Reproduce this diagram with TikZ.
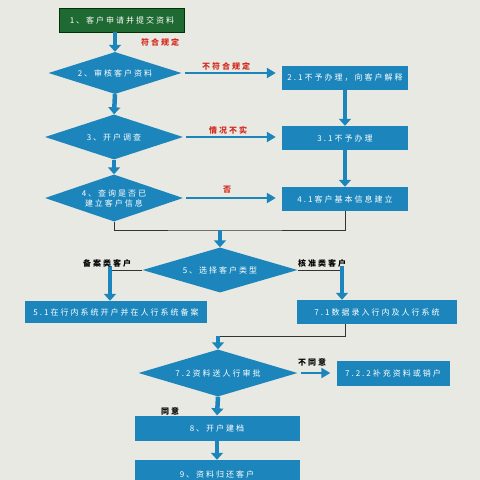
\documentclass[tikz,border=0pt]{standalone}
\usepackage{fontspec}
\setmainfont{Noto Sans CJK SC}[LetterSpace=25]
\usepackage{xcolor}
\definecolor{FlowBlue}{HTML}{1C86BC}
\definecolor{FlowGreen}{HTML}{1F6A32}
\definecolor{PaperBg}{HTML}{E8E9E3}
\definecolor{RuleRed}{HTML}{D42A1E}
\usetikzlibrary{shapes.geometric}
\usetikzlibrary{arrows.meta}

\tikzset{
  stepbox/.style={shape=rectangle, fill=FlowBlue, text=white, inner sep=0pt},
  decision/.style={shape=diamond, aspect=3.2, fill=FlowBlue, text=white, inner sep=0pt, align=center},
  flow/.style={draw=FlowBlue, line width=4.5pt, -{Triangle[width=12pt,length=7pt]}},
  sideflow/.style={draw=FlowBlue, line width=2.6pt, -{Triangle[width=10pt,length=9pt]},
    shorten <=3pt, shorten >=6pt},
  joint/.style={draw=black!80, line width=0.7pt},
  rulelbl/.style={text=RuleRed, font=\fontsize{8}{9}\selectfont\bfseries},
  caselbl/.style={text=black, font=\fontsize{8}{9}\selectfont\bfseries}
}

\begin{document}
\begin{tikzpicture}[x=1pt, y=-1pt, font=\fontsize{8}{10}\selectfont]
    \useasboundingbox (0,0) rectangle (480,480);
    \fill[PaperBg] (0,0) rectangle (480,480);

    \node[name=apply,
      shape=rectangle,
      fill=FlowGreen,
      draw=green!20!black,
      line width=0.8pt,
      text=white,
      minimum width=125pt,
      minimum height=24pt] at (122,20) {1、客户申请并提交资料};

    \node[name=review, decision, minimum width=133pt, minimum height=42pt] at (115,73) {2、审核客户资料};
    \node[name=decline, stepbox, minimum width=126pt, minimum height=24pt] at (345,78) {2.1不予办理，向客户解释};

    \node[name=survey, decision, minimum width=138pt, minimum height=45pt] at (114,137) {3、开户调查};
    \node[name=refuse, stepbox, minimum width=126pt, minimum height=24pt] at (345,138) {3.1不予办理};

    \node[name=check, decision, minimum width=138pt, minimum height=47pt] at (114,198) {4、查询是否已\\建立客户信息};
    \node[name=setup, stepbox, minimum width=126pt, minimum height=24pt] at (345,199) {4.1客户基本信息建立};

    \node[name=ctype, decision, minimum width=155pt, minimum height=45pt] at (220,270) {5、选择客户类型};
    \node[name=local, stepbox, minimum width=182pt, minimum height=22pt] at (116,312) {5.1在行内系统开户并在人行系统备案};
    \node[name=entry, stepbox, minimum width=160pt, minimum height=24pt] at (377,312) {7.1数据录入行内及人行系统};

    \node[name=pbc, decision, minimum width=159pt, minimum height=47pt] at (218,373) {7.2资料送人行审批};
    \node[name=supply, stepbox, minimum width=113pt, minimum height=25pt] at (393,373) {7.2.2补充资料或销户};

    \node[name=open, stepbox, minimum width=165pt, minimum height=25pt] at (217,428) {8、开户建档};
    \node[name=back, stepbox, minimum width=165pt, minimum height=28pt] at (217,474) {9、资料归还客户};

    % main column
    \draw[flow] (apply.south -| review) -- (review.north);
    \draw[flow] (review.south) -- (survey.north);
    \draw[flow] (survey.south) -- (check.north);
    \draw[flow] (decline.south) -- (refuse.north);
    \draw[flow] (refuse.south) -- (setup.north);

    % side exits
    \draw[sideflow] (review.east) -- (decline.west |- review.east);
    \draw[sideflow] (survey.east) -- (refuse.west |- survey.east);
    \draw[sideflow] (check.east) -- (setup.west |- check.east);

    \node[name=ok, rulelbl] at (160,42) {符合规定};
    \node[name=notok, rulelbl] at (226,66) {不符合规定};
    \node[name=untrue, rulelbl] at (228,130) {情况不实};
    \node[name=no, rulelbl] at (227,190) {否};

    % join before type choice
    \coordinate (merge4) at (220,230);
    \draw[joint] (check.south) |- (merge4) -| (setup.south);
    \draw[flow] (merge4) -- (ctype.north);

    \coordinate (filed) at (110,270);
    \coordinate (approved) at (342,270);
    \draw[joint] (ctype.west) -- (filed);
    \draw[joint] (ctype.east) -- (approved);
    \draw[flow] ([yshift=4pt]filed) -- (filed |- local.north);
    \draw[flow] ([yshift=4pt]approved) -- (approved |- entry.north);
    \node[name=filedlbl, caselbl] at (107,263) {备案类客户};
    \node[name=approvedlbl, caselbl] at (322,263) {核准类客户};

    % approval by the central bank
    \coordinate (merge7) at (218,336);
    \draw[joint] ([xshift=-32pt]entry.south) |- (merge7);
    \draw[flow] (merge7) -- (pbc.north);
    \draw[sideflow] (pbc.east) -- (supply.west);
    \node[name=nolbl, caselbl] at (312,362) {不同意};

    \draw[flow] (pbc.south) -- (open.north);
    \node[name=yeslbl, caselbl] at (170,411) {同意};
    \draw[flow] (open.south) -- (back.north);
  \end{tikzpicture}
\end{document}
